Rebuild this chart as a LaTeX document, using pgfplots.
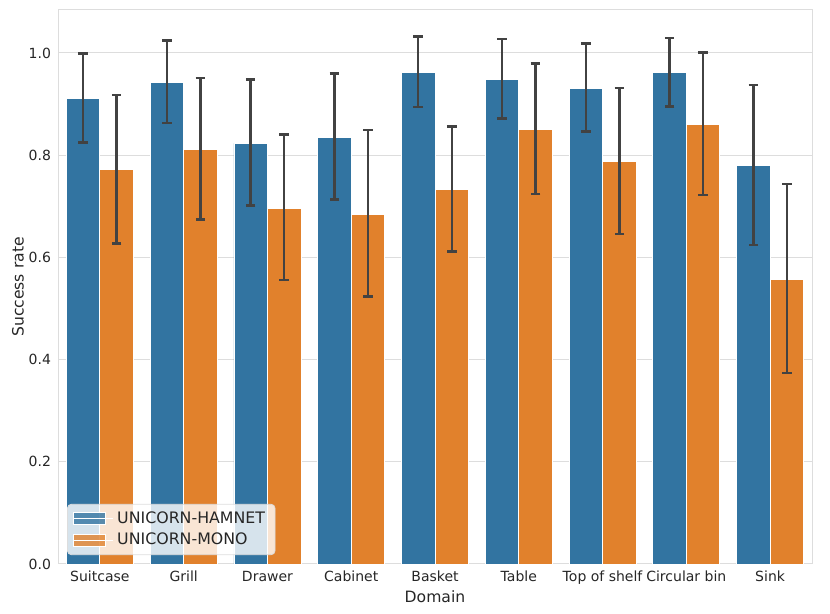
\documentclass[border=0pt]{standalone}
\usepackage{fontspec}
\setmainfont{DejaVu Sans}
\usepackage{pgfplots}
\usepackage{pgfplotstable}
\pgfplotsset{compat=1.18}

\definecolor{sbblue}{RGB}{50,116,161}
\definecolor{sborange}{RGB}{225,129,44}
\definecolor{sbgrid}{RGB}{221,221,221}
\definecolor{sberr}{RGB}{66,66,66}

% x, mean, lower, upper
\pgfplotstableread{
x y lo hi
0 0.911 0.825 0.999
1 0.943 0.863 1.024
2 0.823 0.701 0.948
3 0.835 0.713 0.960
4 0.962 0.894 1.032
5 0.948 0.872 1.027
6 0.930 0.846 1.018
7 0.961 0.895 1.029
8 0.779 0.624 0.937
}\hamnet
\pgfplotstableread{
x y lo hi
0 0.772 0.627 0.918
1 0.811 0.674 0.951
2 0.696 0.556 0.840
3 0.684 0.523 0.849
4 0.733 0.611 0.856
5 0.850 0.724 0.979
6 0.787 0.646 0.931
7 0.860 0.722 1.001
8 0.557 0.374 0.744
}\mono

\begin{document}
\begin{tikzpicture}
\useasboundingbox (0,0) rectangle (415pt,307pt);
\begin{axis}[
    at={(29pt,25pt)}, anchor=south west,
    scale only axis, width=377pt, height=277pt,
    ybar, bar width=0.4,
    xmin=-0.5, xmax=8.5, ymin=0, ymax=1.084,
    xtick=data,
    xticklabels={Suitcase,Grill,Drawer,Cabinet,Basket,Table,Top of shelf,Circular bin,Sink},
    ytick={0,0.2,...,1.0},
    yticklabel style={/pgf/number format/.cd,fixed,fixed zerofill,precision=1,assume math mode=true},
    ticklabel style={font=\fontsize{7}{8}\selectfont, text=black!85},
    major tick length=0pt,
    ymajorgrids, grid style={sbgrid, line width=0.5pt},
    axis line style={sbgrid, line width=0.5pt},
    xlabel={Domain}, ylabel={Success rate},
    label style={font=\fontsize{7.8}{9}\selectfont, text=black!85},
    xlabel style={yshift=4pt},
    ylabel style={yshift=-4.5pt},
    legend cell align=left,
    legend style={at={(0.012,0.016)}, anchor=south west,
        font=\fontsize{7.9}{9.5}\selectfont, text=black!85,
        draw=sbgrid, fill=white, fill opacity=0.8, text opacity=1,
        rounded corners=2pt, inner xsep=3pt, inner ysep=1.5pt, row sep=-0.5pt},
    legend image code/.code={\fill[#1, sharp corners] (0pt,-3pt) rectangle (16pt,3pt);
        \path (0pt,0pt) -- (19.5pt,0pt);},
    error bars/y dir=both, error bars/y explicit,
    error bars/error bar style={sberr, line width=1.25pt},
    error bars/error mark options={sberr, line width=1.25pt, mark size=2.4pt, rotate=90},
]
\addplot[fill=sbblue, draw=white, line width=0.4pt, bar shift=-0.2]
    table[x=x, y=y, y error plus expr=\thisrow{hi}-\thisrow{y}, y error minus expr=\thisrow{y}-\thisrow{lo}] {\hamnet};
\addlegendentry{UNICORN-HAMNET}
\addplot[fill=sborange, draw=white, line width=0.4pt, bar shift=0.2]
    table[x=x, y=y, y error plus expr=\thisrow{hi}-\thisrow{y}, y error minus expr=\thisrow{y}-\thisrow{lo}] {\mono};
\addlegendentry{UNICORN-MONO}
\end{axis}
\end{tikzpicture}
\end{document}
